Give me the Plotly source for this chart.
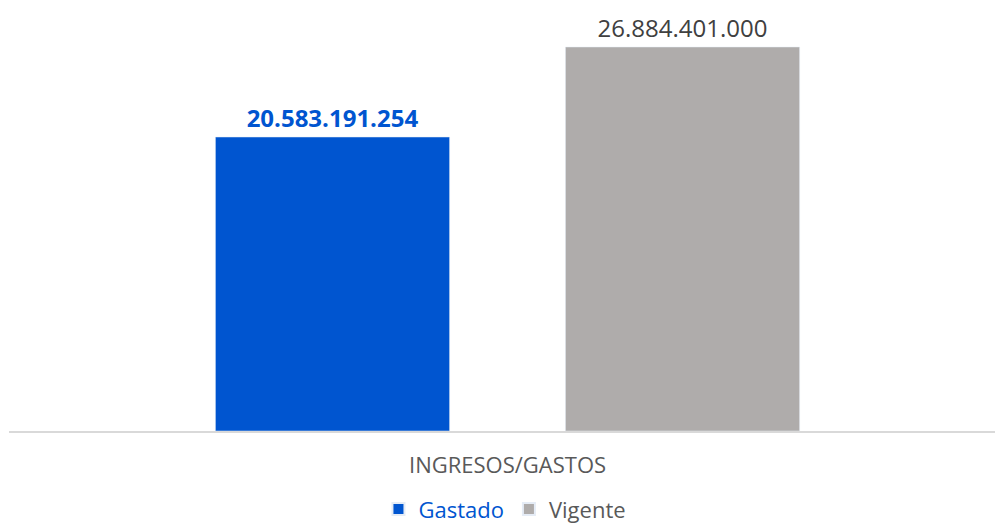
import plotly.graph_objects as go

categories = ["INGRESOS/GASTOS"]
series_names = ["Gastado", "Vigente"]
gastado = [20583191254]
vigente = [26884401000]
label_gastado = ["20.583.191.254"]
label_vigente = ["26.884.401.000"]

BLUE = "#0055D0"
GRAY = "#AFACAB"
FONT = "Open Sans"

fig = go.Figure()
fig.add_trace(go.Bar(
    x=categories, y=gastado, name=f"<span style='color:{BLUE}'>{series_names[0]}</span>",
    marker_color=BLUE, text=label_gastado, textposition="outside",
    textfont=dict(family=FONT, size=24, color=BLUE, weight="bold"),
    cliponaxis=False, hoverinfo="skip",
))
fig.add_trace(go.Bar(
    x=categories, y=vigente, name=f"<span style='color:#595959'>{series_names[1]}</span>",
    marker_color=GRAY, text=label_vigente, textposition="outside",
    textfont=dict(family=FONT, size=24, color="#404040"),
    cliponaxis=False, hoverinfo="skip",
))

fig.update_layout(
    width=995, height=525,
    margin=dict(l=9, r=0, t=10, b=94),
    paper_bgcolor="white", plot_bgcolor="white",
    barmode="group", bargap=0.29, bargroupgap=0.331,
    font=dict(family=FONT, size=20, color="#595959"),
    showlegend=True,
    legend=dict(orientation="h", x=0.503, xanchor="center", yref="container", y=0.03,
                yanchor="middle", font=dict(family=FONT, size=22), itemwidth=30,
                itemsizing="constant", tracegroupgap=0),
    xaxis=dict(range=[-0.5056, 0.4944], showline=True, linecolor="#D9D9D9", linewidth=1.5,
               ticks="", tickfont=dict(family=FONT, size=22, color="#595959"), showgrid=False,
               automargin=False, ticklabelstandoff=14),
    yaxis=dict(range=[0, 29.475e9], visible=False, showgrid=False, zeroline=False),
)

fig.write_html(
    "out.html",
    config={"displayModeBar": False},
    post_script="document.body.style.margin='0';document.body.style.overflow='hidden';",
)
